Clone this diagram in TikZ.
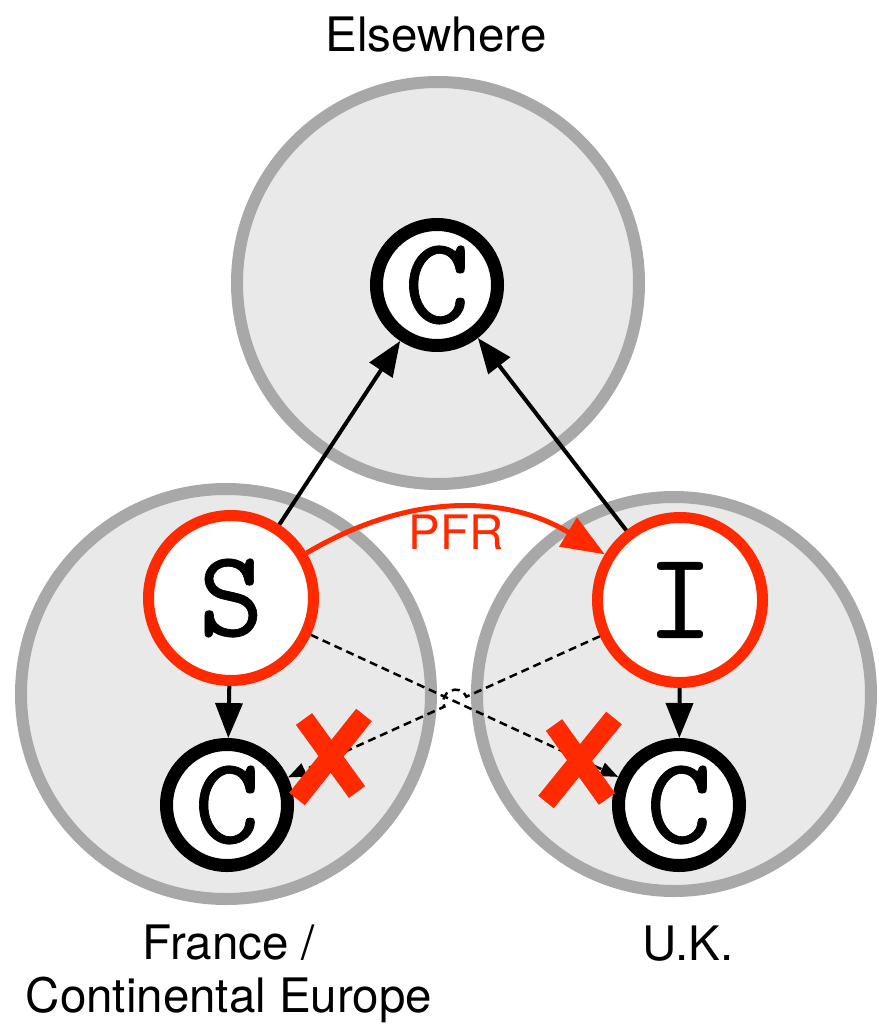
\documentclass[tikz,border=0pt]{standalone}
\usepackage{fontspec}
\setmainfont{TeX Gyre Heros}
\newfontfamily\lettrfont{lmmono10-regular.otf}[FakeBold=0.5]
\usetikzlibrary{arrows.meta,calc}
\definecolor{regionFill}{RGB}{233,233,233}
\definecolor{regionEdge}{RGB}{168,168,168}
\definecolor{pfrRed}{RGB}{255,42,0}

\tikzset{
  region/.style={circle, draw=regionEdge, fill=regionFill, line width=12pt, inner sep=0pt},
  actor/.style={circle, draw=black, fill=white, line width=13pt, minimum size=121pt, inner sep=0pt, font=\fontsize{124}{124}\lettrfont},
  firm/.style={circle, draw=pfrRed, fill=white, line width=11pt, minimum size=165pt, inner sep=0pt, font=\fontsize{124}{124}\lettrfont},
  lbl/.style={font=\fontsize{47.5}{53}\selectfont, align=center},
  flow/.style={-{Triangle[length=35pt,width=27pt]}, line width=4pt},
  leak/.style={-{Triangle[length=18pt,width=14pt]}, line width=2.5pt, dash pattern=on 8pt off 5pt},
  nope/.style={pfrRed, line width=20pt}
}

\begin{document}
\begin{tikzpicture}[x=1pt,y=1pt]
  \useasboundingbox (0,0) rectangle (878,-1025);

  % regions
  \node[region, minimum size=402pt] (top) at (438,-283) {};
  \node[region, minimum size=410pt] (fr) at (226,-694) {};
  \node[region, minimum size=394pt] (uk) at (674,-694) {};
  \node[lbl, anchor=base] (topname) at (436,-52) {Elsewhere};
  \node[lbl, anchor=north, inner sep=0pt] (frname) at (229,-925) {France /\\Continental Europe};
  \node[lbl, anchor=base] (ukname) at (688,-960) {U.K.};

  % firms and consumers
  \node[firm] (S) at (231,-598) {S};
  \node[firm] (I) at (680,-600) {I};
  \node[actor] (C) at (437,-285) {C};
  \node[actor] (lC) at (227,-805) {C};
  \node[actor] (rC) at (679,-805) {C};

  % sales
  \draw[flow] (S) -- (C);
  \draw[flow] (I) -- (C);
  \draw[flow] (S) -- (lC);
  \draw[flow] (I) -- (rC);

  % parallel trade
  \draw[pfrRed, line width=5pt, -{Triangle[length=43pt,width=33pt]}] (S) to[bend left=31]
    node[midway, below, lbl, text=pfrRed] (pfr) {PFR} (I);

  % blocked cross sales
  \draw[leak] (S) -- (rC);
  \coordinate (hop) at (intersection of S--rC and I--lC);
  \draw[leak] (I) -- ($(hop)!12pt!(I)$) to[bend right=90, looseness=1.7] ($(hop)!12pt!(lC)$) -- (lC);

  % crosses
  \draw[nope] (364,-715) -- (297,-799);
  \draw[nope] (304,-719) -- (357,-792);
  \draw[nope] (614,-718) -- (546,-802);
  \draw[nope] (554,-725) -- (607,-799);
\end{tikzpicture}
\end{document}
